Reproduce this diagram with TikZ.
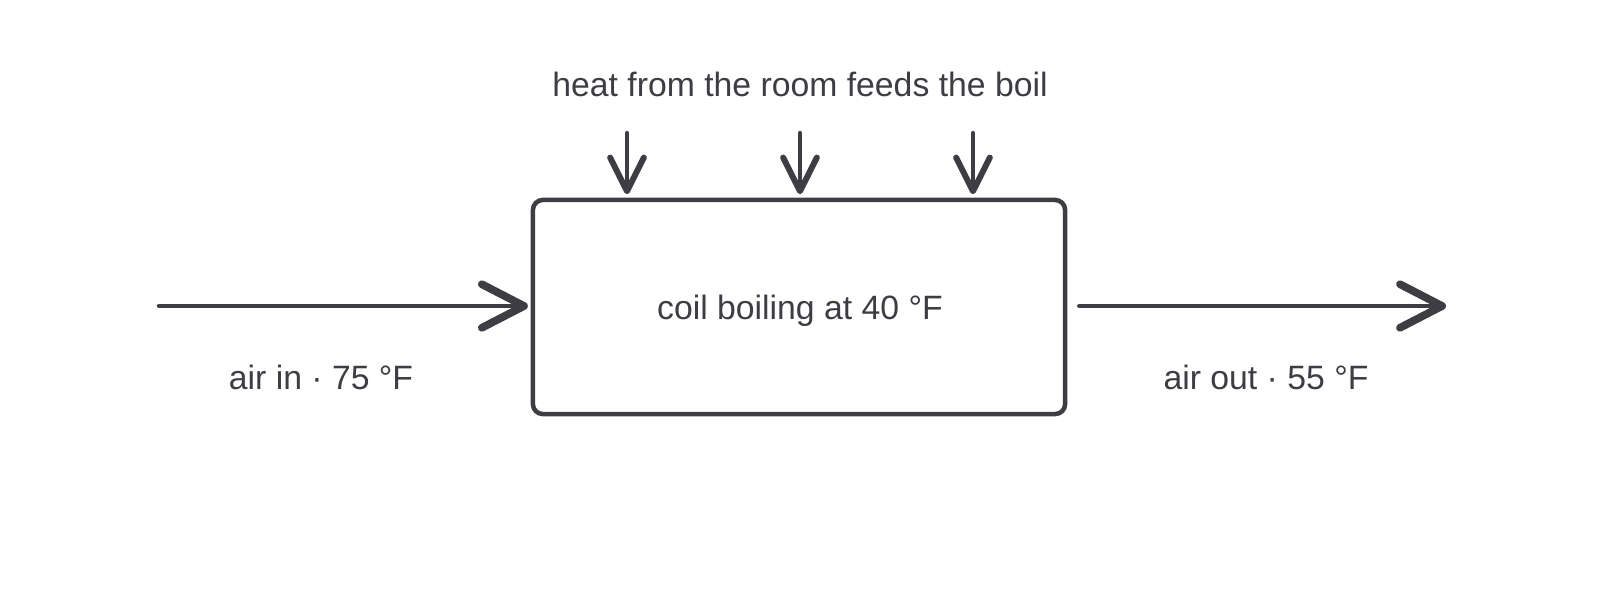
\documentclass[tikz,border=0pt]{standalone}
\usepackage{fontspec}
\setmainfont{Liberation Sans}
\usetikzlibrary{arrows.meta}
\definecolor{ink}{HTML}{3D3D43}
\begin{document}
\begin{tikzpicture}[x=0.025cm,y=-0.025cm,
  lbl/.style={text=ink,font=\fontsize{24}{28}\selectfont,inner sep=0pt},
  bigarr/.style={draw=ink,line width=3.2pt,line cap=round,
    -{Straight Barb[length=30pt,width=31pt,round,line width=5.5pt]}},
  smallarr/.style={draw=ink,line width=3pt,line cap=round,
    -{Straight Barb[length=24pt,width=24pt,round,line width=4.2pt]}},
  boxstyle/.style={draw=ink,line width=3.2pt,rounded corners=7pt,
    minimum width=13.3cm,minimum height=5.35cm,inner sep=0pt}]
\useasboundingbox (0,0) rectangle (1600,613);
\node[boxstyle] (box) at (799,307) {};
\node[lbl] (boxtxt) at (800,311) {coil boiling at 40 °F};
\node[lbl] (heat) at (800,84) {heat from the room feeds the boil};
\node[lbl] (airin) at (321,377) {air in · 75 °F};
\node[lbl] (airout) at (1266,377) {air out · 55 °F};
\coordinate (instart) at (159,306);
\coordinate (outend) at (1446,306);
\coordinate (t1) at (627,133);
\coordinate (t2) at (800,133);
\coordinate (t3) at (973,133);
\draw[bigarr,shorten >=2pt] (instart) -- (box.west |- instart);
\draw[bigarr,shorten <=8.5pt] (box.east |- outend) -- (outend);
\foreach \t in {t1,t2,t3}
  \draw[smallarr,shorten >=2.5pt] (\t) -- (\t |- box.north);
\end{tikzpicture}
\end{document}
